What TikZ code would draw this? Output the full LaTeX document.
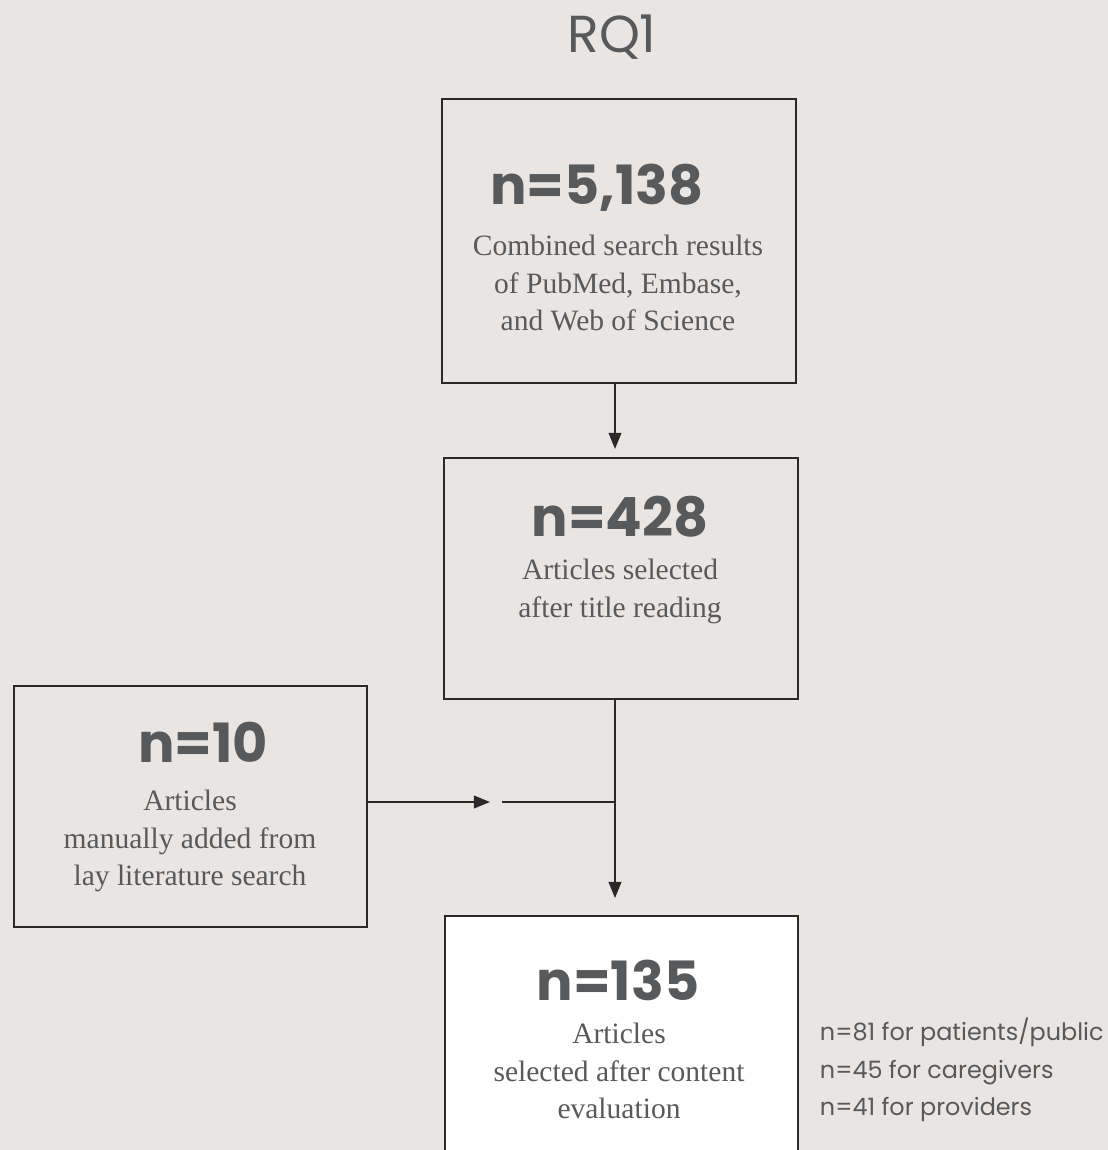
\documentclass[tikz,border=0pt]{standalone}
\usepackage{fontspec}
\setmainfont{Liberation Serif}
\newfontfamily\geosans{Poppins}
\usepackage{xcolor}
\usepackage{tikz}
\usetikzlibrary{arrows.meta,calc}

\definecolor{paper}{HTML}{E9E5E2}
\definecolor{ink}{HTML}{58595B}
\definecolor{frame}{HTML}{2B2829}

\tikzset{
	box/.style={draw=frame, line width=1.4pt, minimum width=8.85cm, inner sep=0pt},
	countlabel/.style={text=ink, font=\geosans\bfseries\fontsize{38.5}{40}\selectfont},
	desclabel/.style={text=ink, align=center, font=\fontsize{21}{26.6}\selectfont},
	flow/.style={draw=frame, line width=1.4pt, -{Triangle[length=11.5pt,width=9pt]}},
}

\begin{document}
\begin{tikzpicture}[x=0.025cm, y=-0.025cm]

	% page
	\fill[paper] (0,0) rectangle (1108,1150);
	\useasboundingbox (0,0) rectangle (1108,1150);
	\clip (0,0) rectangle (1108,1150);

	% trunk of the flow
	\def\trunkX{615}
	\def\mergeY{802}

	% title
	\node[text=ink, font=\geosans\fontsize{37}{38}\selectfont] (title) at (612,37) {RQ1};

	% boxes
	\node[box, minimum height=7.1cm] (search) at (619,241) {};
	\node[box, minimum height=6.025cm] (titles) at (621,578.5) {};
	\node[box, minimum height=6.025cm, minimum width=8.825cm] (manual) at (190.5,806.5) {};
	\node[box, fill=white, minimum height=6.35cm, minimum width=8.825cm] (content) at (621.5,1043) {};

	% box 1
	\node[countlabel] (searchN) at (597,188) {n=5,138};
	\node[desclabel] (searchT) at (618,283)
		{Combined search results\\of PubMed, Embase,\\and Web of Science};

	% box 2
	\node[countlabel] (titlesN) at (620,517) {n=428};
	\node[desclabel] (titlesT) at (620,591.5)
		{Articles selected\\after title reading};

	% box 3
	\node[countlabel] (manualN) at (203,742) {n=10};
	\node[desclabel] (manualT) at (190,841)
		{Articles\\manually added from\\lay literature search};

	% box 4
	\node[countlabel] (contentN) at (618,980) {n=135};
	\node[desclabel] (contentT) at (619,1071)
		{Articles\\selected after content\\evaluation};

	% breakdown
	\node[text=ink, anchor=west, align=left, font=\geosans\fontsize{17}{26.6}\selectfont] (split) at (815,1070)
		{n=81 for patients/public\\n=45 for caregivers\\n=41 for providers};

	% connectors
	\coordinate (merge) at (\trunkX,\mergeY);
	\coordinate (gapL) at (490,\mergeY);
	\coordinate (gapR) at (502,\mergeY);

	\draw[flow, shorten >=5.7pt] (search.south -| merge) -- (titles.north -| merge);
	\draw[flow, shorten >=12pt] (titles.south -| merge) -- (content.north -| merge);
	\draw[flow] (manual.east |- merge) -- (gapL);
	\draw[draw=frame, line width=1.4pt] (gapR) -- (merge);

\end{tikzpicture}
\end{document}
